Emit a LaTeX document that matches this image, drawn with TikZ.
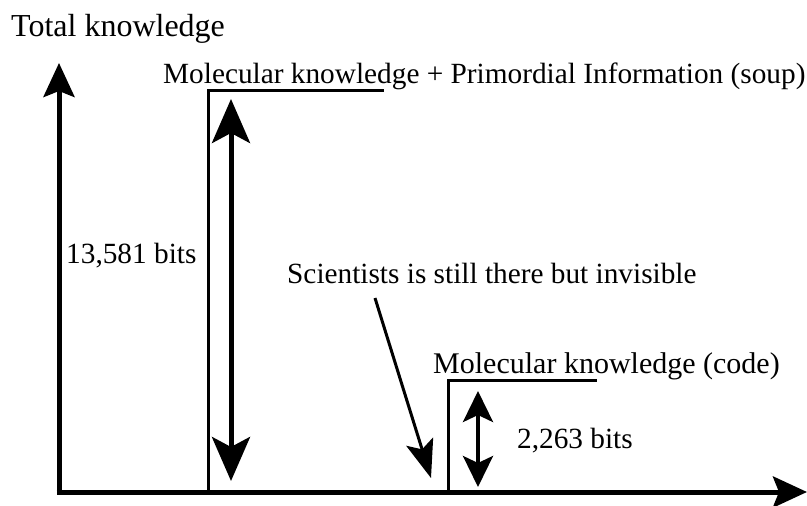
\documentclass[tikz,border=0pt]{standalone}
\usepackage{fontspec}
\setmainfont{Liberation Serif}
\usetikzlibrary{arrows.meta}
\begin{document}
\begin{tikzpicture}[x=1pt,y=-1pt,
  lbl/.style={inner sep=0pt,anchor=base west,font=\fontsize{29.3}{32}\selectfont},
  axisline/.style={line width=5pt,-{Stealth[length=34pt,width=31pt,inset=6pt]}},
  stepline/.style={line width=3pt},
  bigdbl/.style={line width=5pt,{Stealth[length=44pt,width=38pt,inset=10pt]}-{Stealth[length=44pt,width=38pt,inset=10pt]}},
  smalldbl/.style={line width=4pt,{Stealth[length=31pt,width=30pt,inset=7pt]}-{Stealth[length=31pt,width=30pt,inset=7pt]}},
  pointer/.style={line width=3pt,-{Stealth[length=38pt,width=28pt,inset=8pt]}}]
\useasboundingbox (0,0) rectangle (807,506);
% axes
\coordinate (O) at (59,492);
\coordinate (ytip) at (59,63);
\coordinate (xtip) at (807,492);
\draw[axisline] (59,494.5) -- (ytip);
\draw[axisline] (56.5,492) -- (xtip);
% step 1
\coordinate (s1b) at (208,492);
\coordinate (s1t) at (208,90);
\coordinate (s1e) at (384,90);
\draw[stepline] (s1b) -- (s1t) -- (s1e);
% step 2
\coordinate (s2b) at (448,492);
\coordinate (s2t) at (448,380);
\coordinate (s2e) at (597,380);
\draw[stepline] (s2b) -- (s2t) -- (s2e);
% double arrows
\coordinate (d1t) at (231,99);
\coordinate (d1b) at (231,481);
\draw[bigdbl] (d1t) -- (d1b);
\coordinate (d2t) at (478,391);
\coordinate (d2b) at (478,487);
\draw[smalldbl] (d2t) -- (d2b);
% pointer
\coordinate (pa) at (375,298);
\coordinate (pb) at (431,478);
\draw[pointer] (pa) -- (pb);
% labels
\node[lbl,font=\fontsize{32}{35}\selectfont] (tk) at (11,36) {Total knowledge};
\node[lbl] (mk1) at (163,83) {Molecular knowledge + Primordial Information (soup)};
\node[lbl] (b1) at (66,263) {13,581 bits};
\node[lbl] (sc) at (287,283) {Scientists is still there but invisible};
\node[lbl,font=\fontsize{30}{33}\selectfont] (mk2) at (433,373) {Molecular knowledge (code)};
\node[lbl] (b2) at (517,448) {2,263 bits};
\end{tikzpicture}
\end{document}
